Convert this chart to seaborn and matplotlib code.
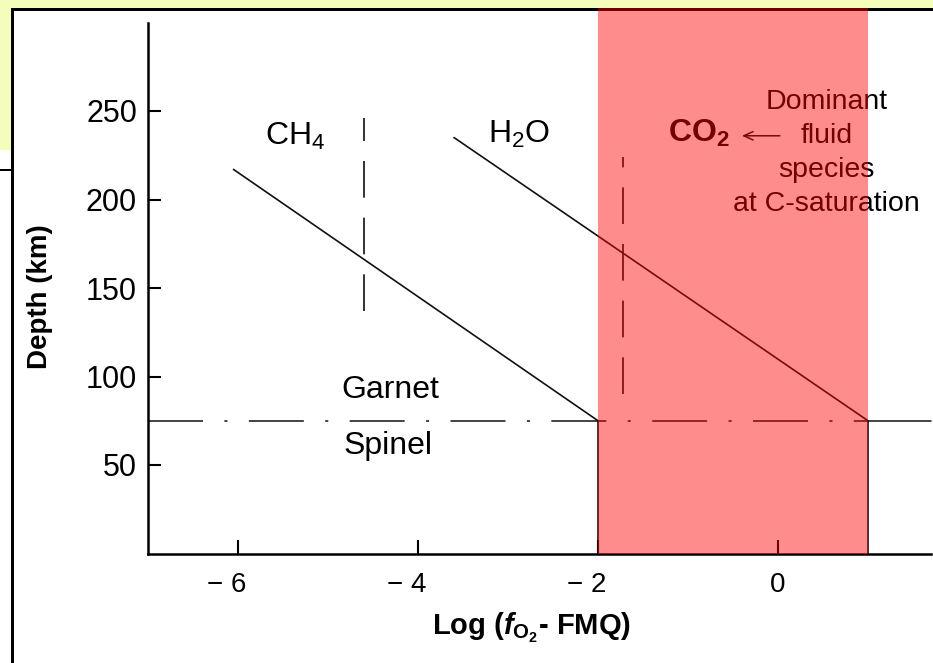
import matplotlib
matplotlib.use("Agg")
import matplotlib.pyplot as plt
import seaborn as sns
from matplotlib.patches import Rectangle
from matplotlib.transforms import ScaledTranslation

# ---------------- data ----------------
x_ticks = [-6, -4, -2, 0]
x_tick_labels = ["\u2212 6", "\u2212 4", "\u2212 2", "0"]
y_ticks = [50, 100, 150, 200, 250]

ch4_x = [-6.05, -2.0, -2.0]
ch4_depth = [217, 75, 0]
h2o_x = [-3.6, 1.0, 1.0]
h2o_depth = [235, 75, 0]

ch4_sat_x = [-4.6, -4.6]
ch4_sat_depth = [137, 246]
h2o_sat_x = [-1.72, -1.72]
h2o_sat_depth = [90, 224]

transition_x = [-7.0, 1.0]
transition_solid_x = [1.0, 1.7]
transition_depth = [75, 75]

co2_field = [-2.0, 1.0]

# ---------------- style ----------------
sns.set_theme(style="ticks")
plt.rcParams["font.family"] = ["Liberation Sans", "DejaVu Sans"]
plt.rcParams["mathtext.fontset"] = "custom"
plt.rcParams["mathtext.rm"] = "Liberation Sans"
plt.rcParams["mathtext.it"] = "Liberation Sans:italic:bold"
plt.rcParams["mathtext.bf"] = "Liberation Sans:bold"
for k in ["text.color", "axes.labelcolor", "xtick.color", "ytick.color", "axes.edgecolor"]:
    plt.rcParams[k] = "black"

W, H = 933, 663
fig = plt.figure(figsize=(W / 100, H / 100), dpi=100, facecolor="white")

# slide decoration (yellow box + black frame)
yellow = "#F5FDBA"
def px_rect(x0, y0, x1, y1, color, z=-2):
    fig.add_artist(Rectangle((x0 / W, (H - y1) / H), (x1 - x0) / W, (y1 - y0) / H,
                             transform=fig.transFigure, facecolor=color,
                             edgecolor="none", zorder=z))
px_rect(0, 0, W, 9, yellow)
px_rect(0, 0, 11, 150, yellow)
px_rect(11, 8, W, 11, "black", -1)
px_rect(11, 8, 14, H, "black", -1)
px_rect(0, 169, 11, 171, "black", -1)

ax = fig.add_axes([148 / W, (H - 553.5) / H, 783 / W, 531 / H])
ax.set_facecolor("none")
ax.set_xlim(-7, 1.7)
ax.set_ylim(0, 300)

lc = "#111111"
sns.lineplot(x=ch4_x, y=ch4_depth, sort=False, estimator=None, color=lc, lw=1.2, ax=ax)
sns.lineplot(x=h2o_x, y=h2o_depth, sort=False, estimator=None, color=lc, lw=1.2, ax=ax)
sns.lineplot(x=ch4_sat_x, y=ch4_sat_depth, sort=False, estimator=None, color=lc, lw=1.2, ax=ax)
ax.lines[-1].set_linestyle((0, (22, 12)))
sns.lineplot(x=h2o_sat_x, y=h2o_sat_depth, sort=False, estimator=None, color=lc, lw=1.2, ax=ax)
ax.lines[-1].set_linestyle((0, (22, 12)))
sns.lineplot(x=transition_x, y=transition_depth, sort=False, estimator=None, color=lc, lw=1.1, ax=ax)
ax.lines[-1].set_linestyle((0, (36, 14, 2, 14)))
sns.lineplot(x=transition_solid_x, y=transition_depth, sort=False, estimator=None, color=lc, lw=1.1, ax=ax)
for ln in ax.lines:
    ln.set_clip_on(False)

# CO2 field overlay
ax.axvspan(co2_field[0], co2_field[1], ymin=0, ymax=(553.5 - 8) / 531,
           color="red", alpha=0.45, lw=0, zorder=10, clip_on=False)

# text labels
ax.text(-5.37, 230.8, r"CH$_4$", fontsize=23, ha="center", va="baseline")
ax.text(-2.88, 232, r"H$_2$O", fontsize=23, ha="center", va="baseline")
ax.text(-0.88, 232.5, r"$\mathbf{CO_2}$", fontsize=23, ha="center", va="baseline")
ax.annotate("", xy=(-0.40, 236), xytext=(0.02, 236),
            arrowprops=dict(arrowstyle="->,head_length=0.55,head_width=0.25",
                            lw=1.1, color=lc, shrinkA=0, shrinkB=0))
ax.text(0.54, 226, "Dominant\nfluid\nspecies\nat C-saturation", fontsize=20.5,
        ha="center", va="center", multialignment="center", linespacing=1.4)
ax.text(-4.31, 92.4, "Garnet", fontsize=23, ha="center", va="center")
ax.text(-4.33, 60.5, "Spinel", fontsize=23, ha="center", va="center")

# axes
sns.despine(ax=ax)
ax.spines["left"].set_linewidth(1.8)
ax.spines["bottom"].set_linewidth(1.8)
ax.set_xticks(x_ticks)
ax.set_xticklabels(x_tick_labels)
ax.set_yticks(y_ticks)
ax.tick_params(axis="x", direction="in", length=10, width=1.5, pad=13, labelsize=20, bottom=True)
ax.tick_params(axis="y", direction="in", length=9, width=1.5, pad=8, labelsize=22, left=True)
for lbl in ax.get_xticklabels():
    if lbl.get_text().startswith("\u2212"):
        lbl.set_horizontalalignment("right")
        lbl.set_transform(lbl.get_transform() + ScaledTranslation(8 / 100, 0, fig.dpi_scale_trans))

ax.set_xlabel(r"Log ($\mathit{f}_{\mathbf{O}_{\mathbf{2}}}$- FMQ)", fontsize=21, fontweight="bold")
ax.xaxis.set_label_coords((531 - 148) / 783, (553.5 - 611) / 531)
ax.set_ylabel("Depth (km)", fontsize=20, fontweight="bold")
ax.yaxis.set_label_coords((53 - 148) / 783, (553.5 - 297) / 531)

fig.savefig("out.png", dpi=100, facecolor="white")
